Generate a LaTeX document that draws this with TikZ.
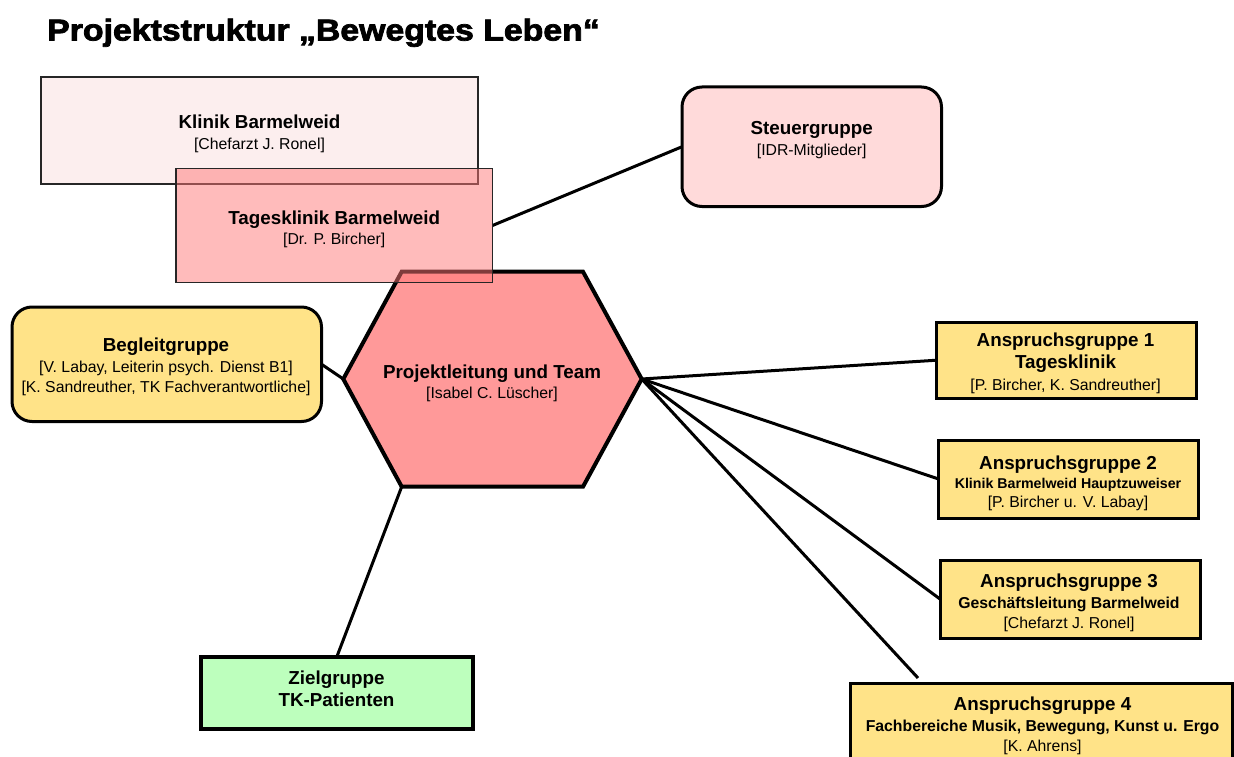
\documentclass[tikz,border=0pt]{standalone}
\usepackage{fontspec}
\setmainfont{Liberation Sans}
\newfontface\titlefont{Liberation Sans Bold}[FakeBold=2.4]
\usetikzlibrary{backgrounds}
\definecolor{klinikfill}{HTML}{FCEEEE}
\definecolor{tagesfill}{HTML}{FF7777}
\definecolor{steuerfill}{HTML}{FFDADA}
\definecolor{hexfill}{HTML}{FF9999}
\definecolor{yellowfill}{HTML}{FFE388}
\definecolor{greenfill}{HTML}{BDFFBD}
\newcommand{\hdf}{\fontsize{18.8}{20.5}\selectfont\bfseries}
\newcommand{\mdf}{\fontsize{15.8}{20.5}\selectfont\bfseries}
\newcommand{\sbf}{\fontsize{14.2}{20.5}\selectfont\bfseries}
\newcommand{\rgf}{\fontsize{15.8}{20.5}\selectfont}
\tikzset{
  box/.style={rectangle, inner sep=0pt, outer sep=0pt},
  thinbox/.style={box, draw=black!85, line width=1.5pt},
  thickbox/.style={box, draw=black, line width=3pt},
  roundbox/.style={thickbox, rounded corners=20pt},
  txt/.style={align=center, inner sep=0pt, font=\rgf},
  conn/.style={draw=black, line width=3pt},
}
\begin{document}
\begin{tikzpicture}[x=1pt, y=-1pt]
\useasboundingbox (0,0) rectangle (1234,757);
% title
\node[anchor=base west, inner sep=0pt] (title) at (47,40.5)
  {\scalebox{1.12}[1]{\titlefont\fontsize{30.2}{32}\selectfont Projektstruktur „Bewegtes Leben“}};
% Klinik
\node[thinbox, fill=klinikfill, minimum width=437pt, minimum height=107pt] (klinik) at (259.5,130.5) {};
\node[txt] (klinik-t) at (259.5,134) {{\hdf Klinik Barmelweid}\\{[Chefarzt J. Ronel]}};
% hexagon
\coordinate (hTL) at (401.7,271.7);
\coordinate (hTR) at (583,271.7);
\coordinate (hR) at (641.7,379);
\coordinate (hBR) at (583,486.7);
\coordinate (hBL) at (401.7,486.7);
\coordinate (hL) at (343.3,379);
\draw[fill=hexfill, line width=4pt, line join=miter] (hTL) -- (hTR) -- (hR) -- (hBR) -- (hBL) -- (hL) -- cycle;
\node[txt] (plt) at (492,383.5) {{\hdf Projektleitung und Team}\\{[Isabel C. Lüscher]}};
% Tagesklinik
\node[thinbox, fill=tagesfill, fill opacity=0.5, minimum width=316.5pt, minimum height=114pt] (tages) at (334.25,225.5) {};
\node[txt] (tages-t) at (334.25,229.5) {{\hdf Tagesklinik Barmelweid}\\{[Dr. P. Bircher]}};
% Steuergruppe
\node[roundbox, fill=steuerfill, minimum width=259.5pt, minimum height=119.5pt] (steuer) at (811.75,146.75) {};
\node[txt] (steuer-t) at (811.75,140) {{\hdf Steuergruppe}\\{[IDR-Mitglieder]}};
% Begleitgruppe
\node[roundbox, fill=yellowfill, minimum width=309.5pt, minimum height=114.5pt] (begleit) at (166.75,364.25) {};
\node[txt] (begleit-t) at (166,367) {{\hdf Begleitgruppe}\\{[V. Labay, Leiterin psych. Dienst B1]}\\{[K. Sandreuther, TK Fachverantwortliche]}};
% Anspruchsgruppen
\node[thickbox, fill=yellowfill, minimum width=260pt, minimum height=76.5pt] (a1) at (1066,360.25) {};
\node[txt] (a1-t) at (1065.5,363) {{\hdf Anspruchsgruppe 1}\\[2pt]{\hdf Tagesklinik}\\[1pt]{[P. Bircher, K. Sandreuther]}};
\node[thickbox, fill=yellowfill, minimum width=259.5pt, minimum height=78pt] (a2) at (1068.25,479) {};
\node[txt] (a2-t) at (1068,483) {{\hdf Anspruchsgruppe 2}\\[-1.5pt]{\sbf Klinik Barmelweid Hauptzuweiser}\\[-1.5pt]{[P. Bircher u. V. Labay]}};
\node[thickbox, fill=yellowfill, minimum width=260pt, minimum height=78pt] (a3) at (1070,599) {};
\node[txt] (a3-t) at (1069,603) {{\hdf Anspruchsgruppe 3}\\{\mdf Geschäftsleitung Barmelweid}\\{[Chefarzt J. Ronel]}};
\node[thickbox, fill=yellowfill, minimum width=382pt, minimum height=92pt] (a4) at (1041,729) {};
\node[txt] (a4-t) at (1042.5,726) {{\hdf Anspruchsgruppe 4}\\{\mdf Fachbereiche Musik, Bewegung, Kunst u. Ergo}\\{[K. Ahrens]}};
\coordinate (a4end) at (918,678);
% Zielgruppe
\node[box, draw=black, line width=4pt, fill=greenfill, minimum width=272.5pt, minimum height=72pt] (ziel) at (336.75,693) {};
\node[txt] (ziel-t) at (336.5,689) {{\hdf Zielgruppe}\\[1pt]{\hdf TK-Patienten}};
% connectors
\begin{scope}[on background layer]
\draw[conn] (tages.east) -- (steuer.west);
\draw[conn] (begleit.east) -- (hL);
\draw[conn] (hR) -- (a1.west);
\draw[conn] (hR) -- (a2.west);
\draw[conn] (hR) -- (a3.west);
\draw[conn] (hR) -- (a4end);
\draw[conn] (hBL) -- (ziel.north);
\end{scope}
\end{tikzpicture}
\end{document}
